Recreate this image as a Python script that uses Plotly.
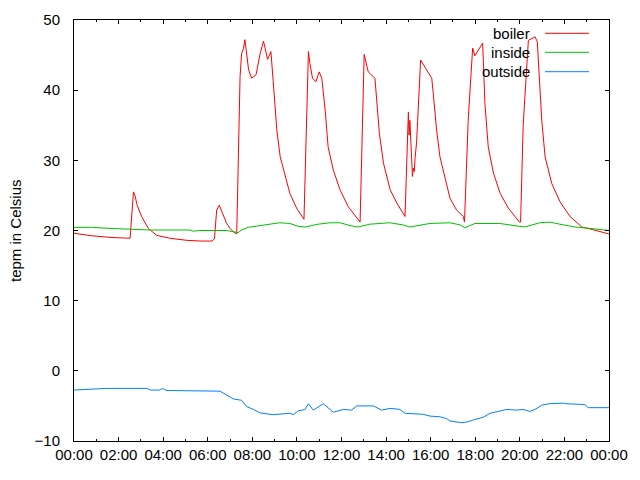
import plotly.graph_objects as go

# ---- data ----
boiler_t = ["00:00","00:48","01:42","02:31","02:40","02:44","02:50","03:02","03:20","03:43",
            "04:18","05:03","05:39","06:11","06:18","06:24","06:31","06:36","06:42","06:51",
            "07:00","07:09","07:18","07:22","07:27","07:31","07:36","07:40","07:50","07:58",
            "08:10","08:21","08:30","08:41","08:50","08:56","09:06","09:15","09:28","09:41",
            "09:59","10:19","10:31","10:35","10:42","10:51","11:00","11:07","11:16","11:24",
            "11:38","11:56","12:18","12:50","13:01","13:12","13:30","13:35","13:42","13:53",
            "14:11","14:29","14:51","15:00","15:02","15:04","15:11","15:13","15:16","15:18",
            "15:22","15:25","15:33","15:49","16:03","16:07","16:16","16:25","16:39","16:52",
            "17:10","17:28","17:31","17:41","17:53","17:59","18:20","18:26","18:35","18:49",
            "19:07","19:29","19:59","20:02","20:09","20:23","20:41","20:47","20:59","21:08",
            "21:26","21:48","22:15","22:47","23:18","23:49","24:00"]
boiler_v = [19.6,19.25,19.0,18.9,25.5,25.0,23.6,22.0,20.3,19.3,
            18.9,18.6,18.5,18.5,18.8,22.9,23.6,22.9,22.0,21.0,
            20.3,19.8,19.5,29.1,41.9,45.2,45.9,47.2,42.9,41.7,
            42.2,45.2,47.0,44.4,45.5,41.4,34.3,30.5,27.7,25.3,
            23.2,21.6,45.5,43.8,41.7,41.2,42.6,41.7,37.2,31.9,
            28.6,25.8,23.4,21.2,45.1,42.6,41.7,38.6,33.8,29.6,
            25.8,23.9,22.0,36.9,33.6,35.7,27.7,28.9,28.4,30.3,
            32.5,35.7,44.3,42.9,41.7,39.5,34.3,30.5,27.2,24.6,
            22.9,22.0,21.2,35.7,46.0,44.9,46.7,38.1,31.9,28.2,
            25.3,23.2,21.2,21.2,35.0,47.1,47.6,46.9,35.7,30.5,
            26.7,24.1,22.0,20.5,20.1,19.6,19.5]

inside_t = ["00:00","00:48","01:37","02:17","03:02","03:25","05:12","05:21","05:39","06:51",
            "07:22","07:31","07:49","08:16","08:47","09:14","09:41","10:03","10:22","10:57",
            "11:29","11:56","12:23","12:44","13:16","14:10","14:45","15:04","15:31","15:58",
            "16:52","17:19","17:32","17:59","19:06","19:52","20:13","20:54","21:21","21:48",
            "22:28","23:09","23:49","24:00"]
inside_v = [20.45,20.45,20.3,20.2,20.15,20.07,20.07,19.9,20.0,20.0,
            19.7,20.07,20.45,20.7,20.9,21.1,21.0,20.6,20.5,20.9,
            21.1,21.1,20.7,20.5,20.9,21.1,20.8,20.5,20.8,21.0,
            21.1,20.8,20.4,21.0,21.0,20.6,20.5,21.1,21.2,20.9,
            20.5,20.3,20.1,20.0]

outside_t = ["00:00","00:38","01:01","01:28","03:16","03:25","03:51","03:59","04:08","05:21",
             "05:26","06:33","06:51","07:09","07:31","07:45","08:03","08:21","08:56","09:41",
             "09:50","10:04","10:22","10:31","10:44","11:11","11:38","12:05","12:27","12:41",
             "13:26","13:48","14:11","14:37","14:51","15:40","15:58","16:25","16:43","16:52",
             "17:24","17:41","17:55","18:22","18:40","19:07","19:25","19:52","20:09","20:27",
             "20:41","20:59","21:17","21:57","22:06","22:55","23:04","23:49","24:00"]
outside_v = [-2.74,-2.6,-2.6,-2.5,-2.5,-2.74,-2.74,-2.5,-2.8,-2.8,
             -2.9,-2.9,-3.45,-4.0,-4.2,-5.1,-5.5,-6.0,-6.25,-6.05,
             -6.25,-5.7,-5.5,-4.7,-5.6,-4.7,-5.9,-5.5,-5.6,-5.0,
             -5.0,-5.6,-5.35,-5.5,-6.05,-6.2,-6.45,-6.55,-6.8,-7.15,
             -7.4,-7.25,-7.0,-6.6,-6.05,-5.7,-5.5,-5.6,-5.5,-5.8,
             -5.5,-4.9,-4.7,-4.6,-4.7,-4.8,-5.25,-5.25,-5.25]

series_names = ["boiler", "inside", "outside"]
series_colors = ["#ff0000", "#00c000", "#0080ff"]
x_tick_labels = ["00:00","02:00","04:00","06:00","08:00","10:00","12:00",
                 "14:00","16:00","18:00","20:00","22:00","00:00"]
y_title = "tepm in Celsius"


def to_dt(t):
    h, m = t.split(":")
    if h == "24":
        return "2024-01-02 00:%s" % m
    return "2024-01-01 %s:%s" % (h, m)


FONT = "Liberation Sans, Arial, sans-serif"
fig = go.Figure()
for name, col, ts, vs in zip(series_names, series_colors,
                             [boiler_t, inside_t, outside_t],
                             [boiler_v, inside_v, outside_v]):
    fig.add_trace(go.Scatter(x=[to_dt(t) for t in ts], y=vs, mode="lines",
                             name=name, line=dict(color=col, width=1),
                             showlegend=False))

tickvals = ["2024-01-01 %02d:00" % h for h in range(0, 24, 2)] + ["2024-01-02 00:00"]

fig.update_layout(
    width=640, height=480,
    margin=dict(l=74, r=31, t=20, b=39),
    paper_bgcolor="white", plot_bgcolor="white",
    font=dict(family=FONT, size=15, color="black"),
    xaxis=dict(type="date", range=["2024-01-01 00:00", "2024-01-02 00:00"],
               tickvals=tickvals, ticktext=x_tick_labels,
               ticks="inside", ticklen=4, tickcolor="black",
               showline=True, linecolor="black", linewidth=1, mirror="ticks",
               showgrid=False, zeroline=False,
               minor=dict(dtick=3600000, ticks="inside", ticklen=2, tickcolor="black", showgrid=False)),
    yaxis=dict(range=[-10, 50], dtick=10, tick0=0,
               ticks="inside", ticklen=4, tickcolor="black",
               showline=True, linecolor="black", linewidth=1, mirror="ticks",
               showgrid=False, zeroline=False, ticklabelstandoff=10),
)

# y axis title placed as in the reference
fig.add_annotation(text=y_title, xref="paper", yref="paper", x=(15.5 - 74) / 535, y=0.5,
                   xanchor="center", yanchor="middle", textangle=-90, showarrow=False,
                   font=dict(family=FONT, size=15))

# gnuplot-style key: text right-aligned, then a line sample
key_y = [(441 - 33.3) / 421, (441 - 52.3) / 421, (441 - 71.7) / 421]
for name, col, ky in zip(series_names, series_colors, key_y):
    fig.add_annotation(text=name, xref="paper", yref="paper", x=(532 - 74) / 535, y=ky,
                       xanchor="right", yanchor="middle", showarrow=False,
                       font=dict(family=FONT, size=15))
    fig.add_shape(type="line", xref="paper", yref="paper",
                  x0=(545 - 74) / 535, x1=(589 - 74) / 535, y0=ky, y1=ky,
                  line=dict(color=col, width=1))

fig.write_html("out.html")
